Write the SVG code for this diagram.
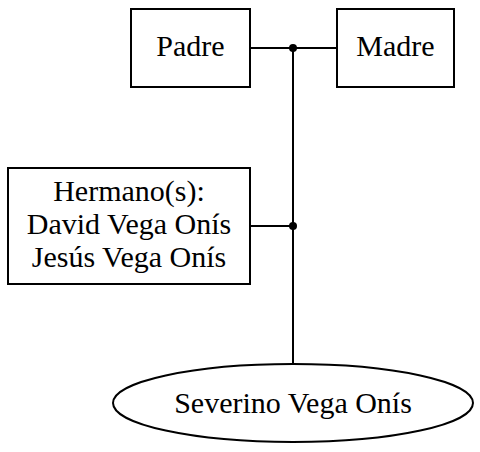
<svg xmlns="http://www.w3.org/2000/svg" width="480" height="452" viewBox="0 0 480 452">
<style>
.box{fill:#fff;stroke:#000;stroke-width:2}
.t{font-family:"Liberation Serif",serif;font-size:30px;fill:#000;text-anchor:middle}
.e{fill:none;stroke:#000;stroke-width:2}
</style>
<rect width="480" height="452" fill="#fff"/>
<g id="connectors">
<line class="e" x1="250" y1="48" x2="337" y2="48"/>
<line class="e" x1="293" y1="48" x2="293" y2="364"/>
<line class="e" x1="250" y1="226" x2="293" y2="226"/>
<circle cx="293" cy="48" r="4" fill="#000"/>
<circle cx="293" cy="226" r="4" fill="#000"/>
</g>
<g id="padre">
<rect class="box" x="131" y="9" width="119" height="78"/>
<text class="t" x="190.5" y="56">Padre</text>
</g>
<g id="madre">
<rect class="box" x="337" y="9" width="117" height="78"/>
<text class="t" x="395.5" y="56">Madre</text>
</g>
<g id="hermanos">
<rect class="box" x="8" y="168" width="242" height="116"/>
<text class="t" x="129" y="201">Hermano(s):</text>
<text class="t" x="129" y="234">David Vega Onís</text>
<text class="t" x="129" y="267">Jesús Vega Onís</text>
</g>
<g id="severino">
<ellipse class="box" cx="293" cy="403" rx="180" ry="39"/>
<text class="t" x="293" y="413">Severino Vega Onís</text>
</g>
</svg>
